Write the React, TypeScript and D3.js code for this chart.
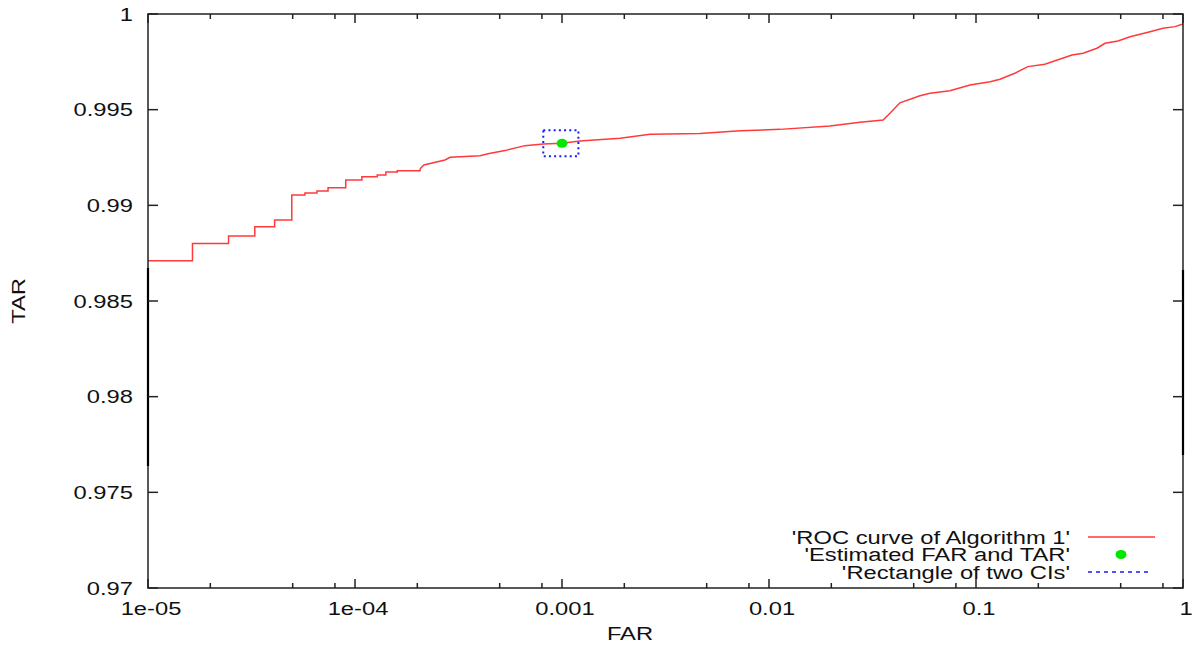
import React from "react";
import * as d3 from "d3";

// ---- data ----
// stepped (early) part of the ROC curve: FAR where TAR jumps, TAR after the jump
const stepFar = [1e-5, 1.64e-5, 2.45e-5, 3.28e-5, 4.09e-5, 4.95e-5, 5.73e-5, 6.55e-5, 7.41e-5, 9.02e-5, 1.08e-4, 1.28e-4, 1.41e-4, 1.6e-4, 2.06e-4];
const stepTar = [0.98711, 0.988, 0.9884, 0.98888, 0.98923, 0.99054, 0.99064, 0.99075, 0.99092, 0.99132, 0.9915, 0.99159, 0.99174, 0.99181, 0.9919];
// smoother (later) part of the ROC curve
const rocFar = [2.06e-4, 2.15e-4, 2.72e-4, 2.88e-4, 4.02e-4, 4.39e-4, 5.3e-4, 6.62e-4, 8.1e-4, 1.0e-3, 1.22e-3, 1.91e-3, 2.66e-3, 4.64e-3, 7.24e-3, 0.0113, 0.0197, 0.0275, 0.0356, 0.0384, 0.0429, 0.0536, 0.06, 0.0748, 0.0935, 0.117, 0.1306, 0.154, 0.178, 0.215, 0.291, 0.329, 0.384, 0.42, 0.485, 0.555, 0.693, 0.8, 0.914, 1.0];
const rocTar = [0.9919, 0.99211, 0.99237, 0.99251, 0.99259, 0.9927, 0.99286, 0.99312, 0.99321, 0.99324, 0.99336, 0.9935, 0.99371, 0.99376, 0.9939, 0.99397, 0.99415, 0.99434, 0.99446, 0.99481, 0.99536, 0.99573, 0.99586, 0.99599, 0.99629, 0.99646, 0.99659, 0.9969, 0.99725, 0.99737, 0.99786, 0.99795, 0.99821, 0.99847, 0.99859, 0.99881, 0.99907, 0.99925, 0.99934, 0.99948];
// estimated point and CI rectangle
const estFar = 1.0e-3;
const estTar = 0.99324;
const ciFar = [8.12e-4, 1.2e-3];
const ciTar = [0.99257, 0.99392];

const xTickValues = [1e-5, 1e-4, 1e-3, 1e-2, 1e-1, 1];
const xTickLabels = ["1e-05", "1e-04", "0.001", "0.01", "0.1", "1"];
const xMinorMultipliers = [2, 5, 8];
const yTickValues = [0.97, 0.975, 0.98, 0.985, 0.99, 0.995, 1];
const yTickLabels = ["0.97", "0.975", "0.98", "0.985", "0.99", "0.995", "1"];
const legendLabels = ["'ROC curve of Algorithm 1'", "'Estimated FAR and TAR'", "'Rectangle of two CIs'"];

const W = 1194;
const H = 648;
const L = 148, R = 1183, T = 14, B = 588;
const FONT = "'Liberation Sans', Arial, Helvetica, sans-serif";
const FS = 18;
const SX = 1.32;

function Txt({ x, y, anchor = "start", children, rotate = 0 }: any) {
  const tr = rotate
    ? `translate(${x},${y}) rotate(${rotate}) scale(${SX},1)`
    : `translate(${x},${y}) scale(${SX},1)`;
  return (
    <text transform={tr} textAnchor={anchor} fontFamily={FONT} fontSize={FS} fill="#111">
      {children}
    </text>
  );
}

export default function App() {
  const x = d3.scaleLog().domain([1e-5, 1]).range([L, R]);
  const y = d3.scaleLinear().domain([0.97, 1]).range([B, T]);

  const stepData = stepFar.map((f, i) => [f, stepTar[i]] as [number, number]);
  const rocData = rocFar.map((f, i) => [f, rocTar[i]] as [number, number]);
  const stepLine = d3.line<[number, number]>().x((d) => x(d[0])).y((d) => y(d[1])).curve(d3.curveStepAfter);
  const lin = d3.line<[number, number]>().x((d) => x(d[0])).y((d) => y(d[1]));

  const minorTicks: number[] = [];
  for (let i = 0; i < xTickValues.length - 1; i++) {
    xMinorMultipliers.forEach((m) => minorTicks.push(xTickValues[i] * m));
  }

  const red = "#ff3a3a";
  const green = "#00e800";
  const blue = "#1a1aff";

  const legY = [537, 554.5, 572];

  return (
    <svg width={W} height={H} style={{ position: "absolute", left: 0, top: 0, background: "#fff" }}>
      <rect x={0} y={0} width={W} height={H} fill="#fff" />

      {/* curves */}
      <path d={stepLine(stepData) || ""} fill="none" stroke={red} strokeWidth={1.5} />
      <path d={lin(rocData) || ""} fill="none" stroke={red} strokeWidth={1.5} />

      {/* CI rectangle */}
      <rect
        x={x(ciFar[0])}
        y={y(ciTar[1])}
        width={x(ciFar[1]) - x(ciFar[0])}
        height={y(ciTar[0]) - y(ciTar[1])}
        fill="none"
        stroke={blue}
        strokeWidth={2}
        strokeDasharray="2,3.2"
      />
      {/* estimated point */}
      <ellipse cx={x(estFar)} cy={y(estTar)} rx={5.5} ry={4.5} fill={green} />

      {/* frame */}
      <rect x={L} y={T} width={R - L} height={B - T} fill="none" stroke="#222" strokeWidth={1.5} />
      <line x1={L} x2={L} y1={268} y2={466} stroke="#000" strokeWidth={2.2} />
      <line x1={R} x2={R} y1={270} y2={455} stroke="#000" strokeWidth={2.2} />

      {/* y ticks */}
      {yTickValues.map((v, i) => (
        <g key={"y" + i}>
          <line x1={L} x2={L + 10} y1={y(v)} y2={y(v)} stroke="#222" strokeWidth={1.5} />
          <line x1={R - 10} x2={R} y1={y(v)} y2={y(v)} stroke="#222" strokeWidth={1.5} />
          <Txt x={133} y={y(v) + 6.5} anchor="end">{yTickLabels[i]}</Txt>
        </g>
      ))}

      {/* x ticks */}
      {xTickValues.map((v, i) => (
        <g key={"x" + i}>
          <line x1={x(v)} x2={x(v)} y1={B} y2={B - 9} stroke="#222" strokeWidth={1.5} />
          <line x1={x(v)} x2={x(v)} y1={T} y2={T + 9} stroke="#222" strokeWidth={1.5} />
          <Txt x={x(v) + 3} y={615} anchor="middle">{xTickLabels[i]}</Txt>
        </g>
      ))}
      {minorTicks.map((v, i) => (
        <g key={"m" + i}>
          <line x1={x(v)} x2={x(v)} y1={B} y2={B - 5} stroke="#222" strokeWidth={1.5} />
          <line x1={x(v)} x2={x(v)} y1={T} y2={T + 5} stroke="#222" strokeWidth={1.5} />
        </g>
      ))}

      {/* axis titles */}
      <Txt x={630} y={640} anchor="middle">FAR</Txt>
      <Txt x={25} y={301} anchor="middle" rotate={-90}>TAR</Txt>

      {/* legend */}
      {legendLabels.map((lab, i) => (
        <Txt key={"l" + i} x={1070} y={legY[i] + 6.5} anchor="end">{lab}</Txt>
      ))}
      <line x1={1088} x2={1155} y1={legY[0]} y2={legY[0]} stroke={red} strokeWidth={1.5} />
      <ellipse cx={1121} cy={legY[1]} rx={5.5} ry={4.5} fill={green} />
      <line x1={1088} x2={1152} y1={legY[2]} y2={legY[2]} stroke={blue} strokeWidth={1.5} strokeDasharray="4,4" />
    </svg>
  );
}
